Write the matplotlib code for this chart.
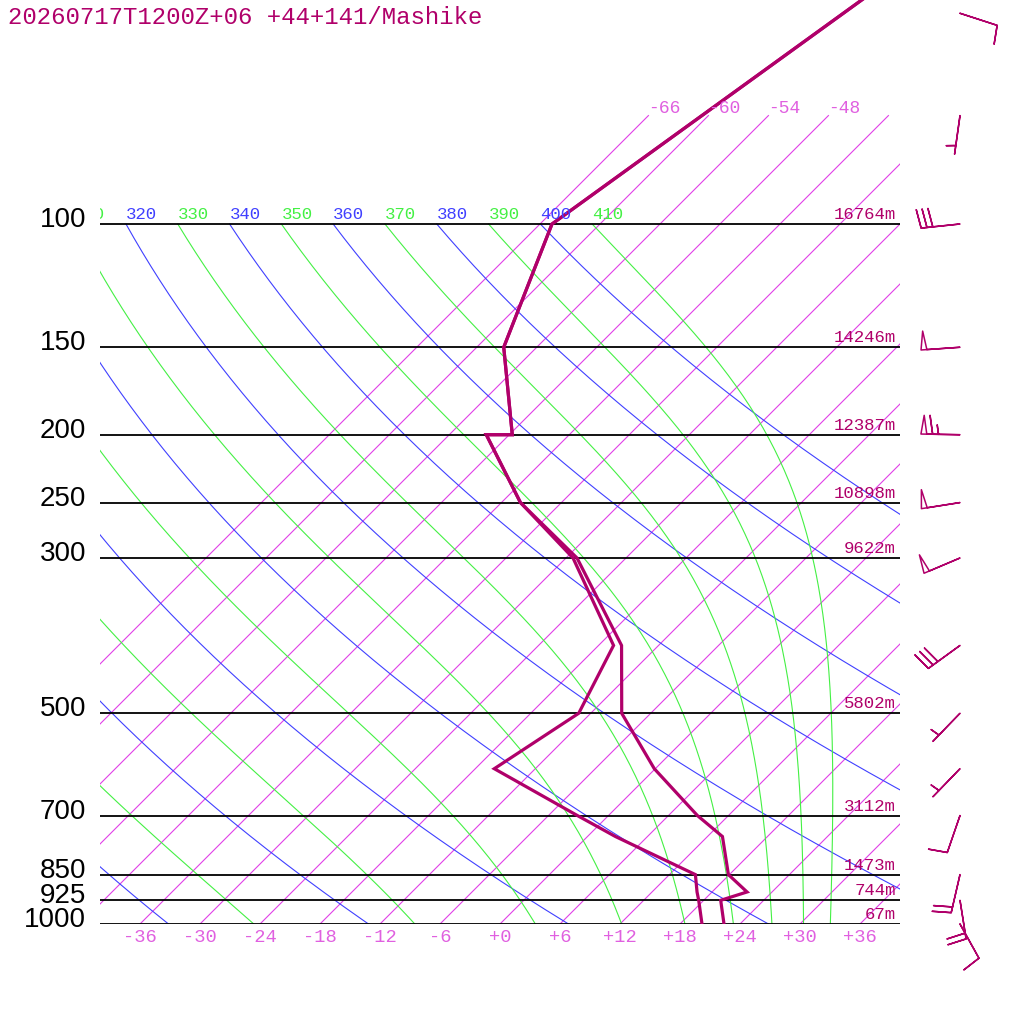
import numpy as np
import matplotlib
matplotlib.use("Agg")
import matplotlib.pyplot as plt

title = "20260717T1200Z+06 +44+141/Mashike"

# sounding (hPa, degC); the 200 hPa level appears twice in the data
pres = [1000, 925, 900, 850, 750, 700, 600, 500, 400, 300, 250, 200, 200, 150, 100, 30]
temp = [22.4, 19.7, 21.5, 17.9, 13.5, 8.9, -0.1, -8.9, -15.7, -28.9, -40.1, -50.3, -47.7, -57.3, -64.8, -50.8]
dewp = [20.2, 17.5, 16.5, 14.6, 2.8, -3.1, -16.1, -13.2, -16.5, -29.3, -40.1, -50.3, -47.7, -57.3, -64.8, -50.8]

# mandatory levels with geopotential height
levels = [1000, 925, 850, 700, 500, 300, 250, 200, 150, 100]
heights = ["67m", "744m", "1473m", "3112m", "5802m", "9622m", "10898m", "12387m", "14246m", "16764m"]

# winds (direction deg, speed kt)
wind_p = [1000, 925, 850, 700, 600, 500, 400, 300, 250, 200, 150, 100, 70, 50]
wind_dir = [151, 171, 193, 199, 224, 224, 234, 247, 261, 271, 266, 264, 188, 108]
wind_spd = [10, 20, 20, 10, 5, 5, 30, 50, 50, 65, 50, 30, 5, 10]

tick_temps = [-36, -30, -24, -18, -12, -6, 0, 6, 12, 18, 24, 30, 36]
isotherms = [-66, -60, -54, -48, -42, -36, -30, -24, -18, -12, -6, 0, 6, 12, 18, 24, 30, 36]
dry_theta = [240, 260, 280, 300, 320, 340, 360, 380, 400]
moist_thetae = [250, 270, 290, 310, 330, 350, 370, 390, 410]

PROFILE = "#b0006a"
ISO = "#e040e8"
ISO_TXT = "#e060e0"
DRY = "#4040ff"
MOIST = "#44f044"

KAPPA = 0.2857
RD, CP, LV, EPS = 287.04, 1005.7, 2.501e6, 0.622


def py(p):
    return 924 - 700 * np.log10(1000 / np.asarray(p, float))


def px(t, p):
    return 500 + 10 * np.asarray(t, float) + 700 * np.log10(1000 / np.asarray(p, float))


def moist_lapse(T, p):
    es = 6.112 * np.exp(17.67 * (T - 273.15) / (T - 29.65))
    rs = EPS * es / (p - es)
    return (RD * T + LV * rs) / (CP + LV ** 2 * rs * EPS / (RD * T ** 2))


def moist_curve(thetae, p_grid):
    # start on the dry adiabat at 100 hPa and go down
    T = thetae * (p_grid[0] / 1000) ** KAPPA
    out = [T]
    lnp = np.log(p_grid)
    for i in range(len(p_grid) - 1):
        h = lnp[i + 1] - lnp[i]
        p0, p1 = p_grid[i], p_grid[i + 1]
        pm = np.exp(lnp[i] + h / 2)
        k1 = moist_lapse(T, p0)
        k2 = moist_lapse(T + h / 2 * k1, pm)
        k3 = moist_lapse(T + h / 2 * k2, pm)
        k4 = moist_lapse(T + h * k3, p1)
        T = T + h / 6 * (k1 + 2 * k2 + 2 * k3 + k4)
        out.append(T)
    return np.array(out) - 273.15


fig = plt.figure(figsize=(10.24, 10.24), dpi=100)
ax = fig.add_axes([100 / 1024, 100 / 1024, 800 / 1024, 924 / 1024])
ax.set_xlim(100, 900)
ax.set_ylim(924, 0)
ax.axis("off")

mono = "Liberation Mono"

# isotherms
for t in isotherms:
    ax.plot(px([t, t], [1000, 70]), py([1000, 70]), color=ISO, lw=0.8)
    xt = float(px(t, 70))
    if xt < 860:
        ax.text(xt, py(70) + 1, f"{t:d}", color=ISO_TXT, fontsize=13, family=mono,
                ha="left", va="bottom")

p_ad = np.geomspace(100, 1000, 200)

# dry adiabats
for th in dry_theta:
    tc = th * (p_ad / 1000) ** KAPPA - 273.15
    ax.plot(px(tc, p_ad), py(p_ad), color=DRY, lw=0.8)
    xl = float(px(tc[0], 100))
    if xl > 65:
        ax.text(xl, py(100) - 2, str(th), color=DRY, fontsize=12.5,
                family=mono, ha="left", va="bottom", clip_on=True)

# moist adiabats
for th in moist_thetae:
    tc = moist_curve(th, p_ad)
    ax.plot(px(tc, p_ad), py(p_ad), color=MOIST, lw=0.8)
    xl = float(px(tc[0], 100))
    if xl > 65:
        ax.text(xl, py(100) - 2, str(th), color=MOIST, fontsize=12.5,
                family=mono, ha="left", va="bottom", clip_on=True)

# pressure lines, labels and heights
for p, h in zip(levels, heights):
    y = float(py(p))
    ax.plot([100, 900], [y, y], color="black", lw=1.3, solid_capstyle="butt")
    ax.text(86, y - 4, str(p), color="black", fontsize=20, family="Liberation Sans",
            ha="right", va="center", clip_on=False)
    ax.text(896, y - 2, h, color=PROFILE, fontsize=12.5, family=mono,
            ha="right", va="bottom")

# temperature axis labels
for t in tick_temps:
    lab = f"{t:+d}" if t >= 0 else f"{t:d}"
    ax.text(float(px(t, 1000)), 937, lab, color=ISO_TXT, fontsize=13.5, family=mono,
            ha="center", va="center", clip_on=False)

# profile
ax.plot(px(dewp, pres), py(pres), color=PROFILE, lw=2.3, solid_joinstyle="miter")
ax.plot(px(temp, pres), py(pres), color=PROFILE, lw=2.3, solid_joinstyle="miter")

# wind barbs (open pennants)
wd = np.radians(wind_dir)
spd = np.array(wind_spd, float)
u = -spd * np.sin(wd)
v = -spd * np.cos(wd)
ax.barbs(np.full(len(wind_p), 960.0), py(wind_p), u, v, length=7.5, pivot="tip",
         facecolor="none", edgecolor=PROFILE, linewidth=1.1, clip_on=False,
         sizes=dict(spacing=0.15, height=0.48, width=0.15, emptybarb=0.0),
         barb_increments=dict(half=5, full=10, flag=50))

fig.text(8 / 1024, 1 - 18 / 1024, title, color=PROFILE, fontsize=17.3, family=mono,
         ha="left", va="center")

fig.savefig("out.png", dpi=100)
